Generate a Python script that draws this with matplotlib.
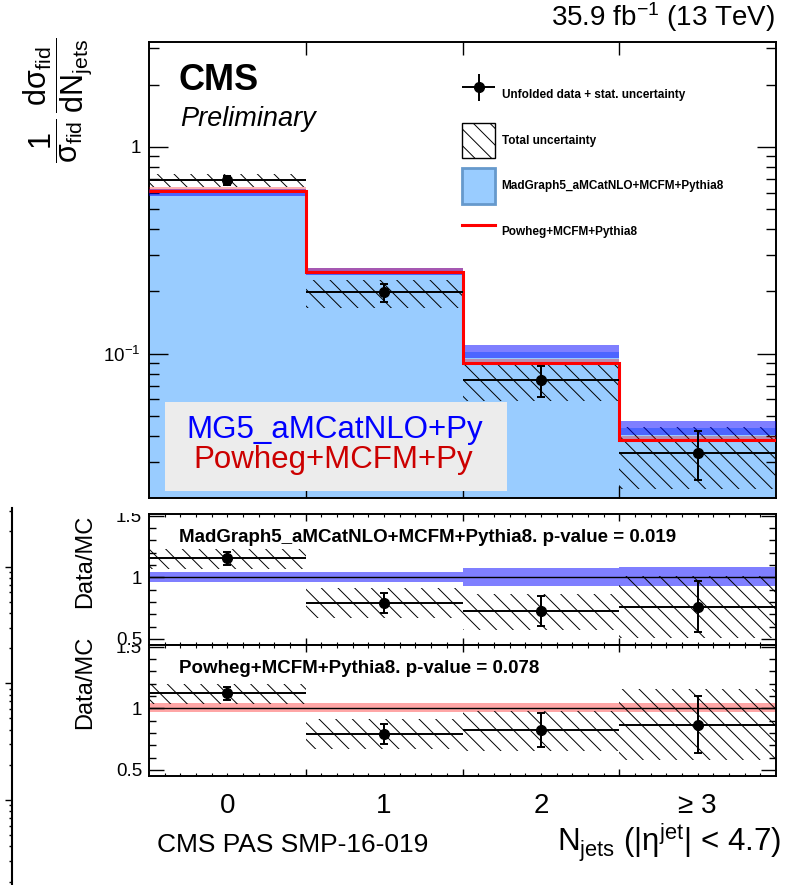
import numpy as np
import matplotlib
matplotlib.use('Agg')
import matplotlib.pyplot as plt
from matplotlib.patches import Rectangle, Patch
from matplotlib.lines import Line2D
from matplotlib.ticker import FixedLocator, LogLocator, NullFormatter, FuncFormatter
from matplotlib.legend_handler import HandlerErrorbar
from matplotlib.transforms import Bbox, TransformedBbox

plt.rcParams['font.family'] = ['Liberation Sans', 'DejaVu Sans']
plt.rcParams['mathtext.fontset'] = 'custom'
plt.rcParams['mathtext.rm'] = 'Liberation Sans'
plt.rcParams['mathtext.it'] = 'Liberation Sans:italic'
plt.rcParams['mathtext.bf'] = 'Liberation Sans:bold'
plt.rcParams['hatch.linewidth'] = 0.7

# ---- data ----
njets = np.array([0, 1, 2, 3])
njets_labels = ['0', '1', '2', '≥ 3']

data = np.array([0.690, 0.198, 0.0743, 0.0331])
stat_lo = np.array([0.657, 0.177, 0.0617, 0.0243])
stat_hi = np.array([0.722, 0.218, 0.0868, 0.0422])
tot_lo = np.array([0.637, 0.166, 0.0588, 0.0222])
tot_hi = np.array([0.737, 0.228, 0.0884, 0.0442])

mg = np.array([0.598, 0.249, 0.102, 0.0436])
mg_lo = np.array([0.577, 0.240, 0.0949, 0.0405])
mg_hi = np.array([0.625, 0.259, 0.1095, 0.0473])

pw = np.array([0.615, 0.249, 0.0902, 0.0383])
pw_lo = np.array([0.598, 0.242, 0.0877, 0.0372])
pw_hi = np.array([0.639, 0.259, 0.0938, 0.0398])

mg_pvalue = '0.019'
pw_pvalue = '0.078'

edges = np.append(njets - 0.5, njets[-1] + 0.5)

W, H = 794, 885
fig = plt.figure(figsize=(W / 100, H / 100), dpi=100)


def fbox(x0, y0, x1, y1):
    # pixel box (top-left origin) -> figure fraction rect
    return [x0 / W, 1 - y1 / H, (x1 - x0) / W, (y1 - y0) / H]


ax = fig.add_axes(fbox(149, 42, 776, 497.5))
r1 = fig.add_axes(fbox(149, 514, 776, 645))
r2 = fig.add_axes(fbox(149, 645, 776, 776))

# ---- main panel ----
ax.set_yscale('log')
ax.stairs(mg, edges, fill=True, baseline=1e-4, color='#99ccff', zorder=1)
ax.bar(njets, tot_hi - tot_lo, bottom=tot_lo, width=1, fill=False, hatch=r'\\',
       edgecolor='black', linewidth=0, zorder=2)
ax.bar(njets, mg_hi - mg_lo, bottom=mg_lo, width=1, color='blue', alpha=0.5,
       linewidth=0, zorder=3)
ax.bar(njets, pw_hi - pw_lo, bottom=pw_lo, width=1, color='red', alpha=0.3,
       linewidth=0, zorder=3)
ax.stairs(pw, edges, baseline=None, color='red', lw=2.2, zorder=4)
eb = ax.errorbar(njets, data, xerr=0.5, yerr=[data - stat_lo, stat_hi - data], fmt='o',
                 color='black', ms=7, lw=1.4, capsize=0, zorder=6)
ax.errorbar(njets, data, yerr=[data - stat_lo, stat_hi - data], fmt='none',
            ecolor='black', lw=1.4, capsize=3, capthick=1.4, zorder=6)

ax.set_xlim(edges[0], edges[-1])
ax.set_ylim(0.0201, 3.22)
ax.set_yticks([0.1, 1], ['10$^{-1}$', '1'])
ax.yaxis.set_minor_locator(LogLocator(subs=np.arange(2, 10)))
ax.yaxis.set_minor_formatter(NullFormatter())
ax.set_xticks(edges[1:-1])
ax.set_xticklabels([])
ax.tick_params(axis='y', which='major', direction='in', length=14, width=1,
               right=True, labelsize=13.5, pad=6)
ax.tick_params(axis='y', which='minor', direction='in', length=7, width=1, right=True)
ax.tick_params(axis='x', which='major', direction='in', length=9, width=1, top=True)
for s in ax.spines.values():
    s.set_linewidth(1.4)

handles = [
    eb,
    Patch(facecolor='white', edgecolor='black', hatch=r'\\', lw=1),
    Patch(facecolor='#99ccff', edgecolor='#6699cc', lw=2),
    Line2D([], [], color='red', lw=2.2),
]
labels = ['Unfolded data + stat. uncertainty', 'Total uncertainty',
          'MadGraph5_aMCatNLO+MCFM+Pythia8', 'Powheg+MCFM+Pythia8']
ax.legend(handles, labels, loc='upper left', bbox_to_anchor=(0.4992, 0.924),
          frameon=False, prop={'weight': 'bold', 'size': 8.5}, handlelength=2.8,
          handleheight=4.3, labelspacing=0.85, handletextpad=0.55, borderpad=0,
          borderaxespad=0, handler_map={type(eb): HandlerErrorbar(xerr_size=1.4, yerr_size=1.15)})

ax.add_patch(Rectangle((16 / 627, 6.5 / 455.5), 342 / 627, 89 / 455.5, transform=ax.transAxes,
                       facecolor='#ececec', edgecolor='none', zorder=7))
ax.text(37 / 627, 59.5 / 455.5, 'MG5_aMCatNLO+Py', transform=ax.transAxes, color='#0000ff',
        fontsize=22.5, va='baseline', zorder=8)
ax.text(44 / 627, 29.5 / 455.5, 'Powheg+MCFM+Py', transform=ax.transAxes, color='#cc0000',
        fontsize=22.5, va='baseline', zorder=8)

ax.text(30 / 627, 1 - 48 / 455.5, 'CMS', transform=ax.transAxes, fontsize=26,
        fontweight='bold', va='baseline')
ax.text(31 / 627, 1 - 83.7 / 455.5, 'Preliminary', transform=ax.transAxes, fontsize=19.5,
        style='italic', va='baseline')

fig.text(775 / W, 1 - 25.5 / H, '35.9 fb$^{-1}$ (13 TeV)', ha='right', va='baseline', fontsize=20)
fig.text(58 / W, 1 - 100 / H,
         r'$\dfrac{1}{\mathrm{σ}_{\mathrm{fid}}}\,\dfrac{\mathrm{dσ}_{\mathrm{fid}}}{\mathrm{dN}_{\mathrm{jets}}}$',
         rotation=90, ha='center', va='center', fontsize=22)

# ---- ratio panels ----
panels = [
    (r1, mg, mg_lo, mg_hi, 'blue', 0.5,
     'MadGraph5_aMCatNLO+MCFM+Pythia8. p-value = ' + mg_pvalue, 513, 645),
    (r2, pw, pw_lo, pw_hi, 'red', 0.35,
     'Powheg+MCFM+Pythia8. p-value = ' + pw_pvalue, 645, 885),
]
minor_x = [round(v, 2) for v in np.arange(-0.4, 3.45, 0.1)
           if min(abs(v - e) for e in edges) > 1e-6]
for rax, mc, lo, hi, col, alpha, title, clip_top, clip_bot in panels:
    rax.bar(njets, (hi - lo) / mc, bottom=lo / mc, width=1, color=col, alpha=alpha,
            linewidth=0, zorder=1)
    rax.axhline(1, color='black', lw=1, zorder=2)
    rax.bar(njets, (tot_hi - tot_lo) / mc, bottom=tot_lo / mc, width=1, fill=False,
            hatch=r'\\', edgecolor='black', linewidth=0, zorder=3)
    ratio = data / mc
    rax.errorbar(njets, ratio, xerr=0.5, yerr=[(data - stat_lo) / mc, (stat_hi - data) / mc],
                 fmt='o', color='black', ms=7, lw=1.4, capsize=0, zorder=5)
    rax.errorbar(njets, ratio, yerr=[(data - stat_lo) / mc, (stat_hi - data) / mc],
                 fmt='none', ecolor='black', lw=1.4, capsize=3, capthick=1.4, zorder=5)
    rax.set_xlim(edges[0], edges[-1])
    rax.set_ylim(0.451, 1.513)
    rax.set_yticks([0.5, 1, 1.5], ['0.5', '1', '1.5'])
    rax.yaxis.set_minor_locator(FixedLocator(np.arange(0.6, 1.45, 0.1)))
    rax.set_xticks(edges[1:-1])
    rax.set_xticklabels([])
    rax.xaxis.set_minor_locator(FixedLocator(minor_x))
    rax.tick_params(axis='y', which='major', direction='in', length=11, width=1,
                    right=True, labelsize=13.5, pad=5)
    rax.tick_params(axis='y', which='minor', direction='in', length=5, width=1, right=True)
    rax.tick_params(axis='x', which='major', direction='in', length=5, width=1, top=True)
    rax.tick_params(axis='x', which='minor', direction='in', length=2.5, width=0.8, top=True)
    for s in rax.spines.values():
        s.set_linewidth(1.4)
    rax.text(30 / 627, 0.79, title, transform=rax.transAxes, fontsize=13.5,
             fontweight='bold', va='baseline', zorder=6)
    box = TransformedBbox(Bbox([[0, 1 - clip_bot / H], [1, 1 - clip_top / H]]), fig.transFigure)
    for t in rax.yaxis.get_major_ticks():
        t.label1.set_clip_box(box)
        t.label1.set_clip_on(True)

r1.xaxis.set_minor_formatter(NullFormatter())
center_lab = dict(zip(njets, njets_labels))
r2.xaxis.set_minor_formatter(FuncFormatter(
    lambda v, p: center_lab.get(int(round(v)), '') if abs(v - round(v)) < 1e-6 else ''))
r2.tick_params(axis='x', which='minor', labelsize=20, pad=12)

fig.text(85 / W, 1 - 561.5 / H, 'Data/MC', rotation=90, ha='center', va='center', fontsize=17)
fig.text(85 / W, 1 - 682.5 / H, 'Data/MC', rotation=90, ha='center', va='center', fontsize=17)

fig.text(157 / W, 1 - 851.7 / H, 'CMS PAS SMP-16-019', ha='left', va='baseline', fontsize=19)
fig.text(781 / W, 1 - 851.7 / H, 'N$_{\\mathrm{jets}}$ (|η$^{\\mathrm{jet}}$| < 4.7)',
         ha='right', va='baseline', fontsize=22.5)

# stray axis fragment at the left edge
sx = fig.add_axes(fbox(0, 508, 12.3, 885))
sx.set_yscale('log')
sx.set_ylim(10 ** -0.728, 10 ** 2.502)
sx.patch.set_visible(False)
for k in ['left', 'top', 'bottom']:
    sx.spines[k].set_visible(False)
sx.spines['right'].set_linewidth(1.5)
sx.set_xticks([])
sx.yaxis.tick_right()
sx.yaxis.set_minor_locator(LogLocator(subs=np.arange(2, 10)))
sx.yaxis.set_major_formatter(NullFormatter())
sx.yaxis.set_minor_formatter(NullFormatter())
sx.tick_params(axis='y', which='major', direction='in', length=5, width=1)
sx.tick_params(axis='y', which='minor', direction='in', length=2.5, width=1)

fig.savefig('out.png', dpi=100)
